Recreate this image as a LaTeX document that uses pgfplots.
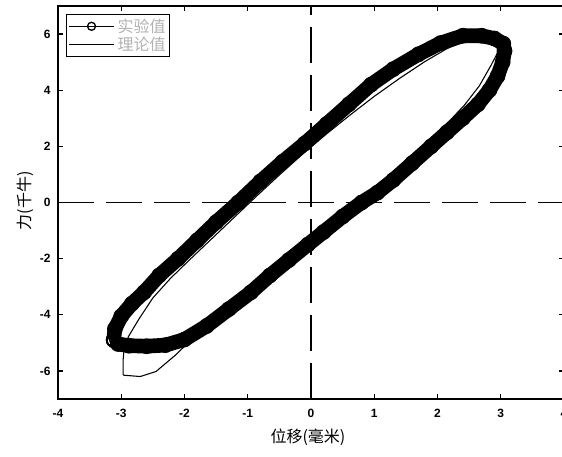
\documentclass[border=0pt]{standalone}
\usepackage{fontspec}
\usepackage{pgfplots}
\usepackage{pgfplotstable}
\pgfplotsset{compat=1.18}
\setmainfont{Liberation Sans}
\newfontfamily\cjk{Noto Sans CJK SC}

% measured hysteresis loop (displacement mm, force kN)
\pgfplotstableread{
x y
-3.12 -4.90
-3.10 -4.50
-3.00 -4.05
-2.83 -3.60
-2.64 -3.20
-2.40 -2.60
-2.10 -2.00
-1.80 -1.35
-1.50 -0.70
-1.15 0.00
-0.80 0.75
-0.45 1.45
-0.10 2.10
0.25 2.80
0.60 3.50
0.95 4.20
1.30 4.75
1.70 5.28
2.05 5.68
2.40 5.94
2.70 5.94
2.90 5.84
3.04 5.66
3.06 5.40
3.03 5.00
2.95 4.50
2.82 4.00
2.64 3.50
2.40 3.00
2.15 2.50
1.90 2.00
1.60 1.40
1.30 0.80
1.05 0.35
0.80 0.00
0.50 -0.50
0.20 -1.05
-0.05 -1.50
-0.35 -2.05
-0.65 -2.60
-0.95 -3.20
-1.30 -3.80
-1.65 -4.40
-2.00 -4.88
-2.30 -5.08
-2.60 -5.12
-2.88 -5.10
-3.05 -5.04
-3.12 -4.90
}\exptable

% model prediction
\pgfplotstableread{
x y
-2.97 -6.15
-2.97 -5.60
-2.95 -5.10
-2.88 -4.75
-2.72 -4.15
-2.50 -3.40
-2.22 -2.70
-1.90 -2.00
-1.55 -1.25
-1.20 -0.50
-0.85 0.25
-0.50 0.98
-0.12 1.75
0.25 2.45
0.62 3.12
1.00 3.78
1.40 4.42
1.80 5.02
2.15 5.48
2.45 5.78
2.75 5.72
3.00 5.55
2.85 4.90
2.66 4.15
2.43 3.48
2.18 2.88
1.87 2.22
1.52 1.52
1.17 0.82
0.82 0.17
0.47 -0.48
0.12 -1.12
-0.23 -1.77
-0.58 -2.42
-0.93 -3.07
-1.28 -3.72
-1.62 -4.38
-1.92 -4.95
-2.15 -5.45
-2.45 -6.02
-2.70 -6.20
-2.97 -6.15
}\theotable

\begin{document}
\begin{tikzpicture}
\begin{axis}[
  name=ax,
  scale only axis,
  width=379.5pt, height=294.75pt,
  xmin=-4, xmax=4, ymin=-7, ymax=7,
  xtick={-4,-3,...,4},
  ytick={-6,-4,...,6},
  tick align=inside,
  tick pos=both,
  major tick length=4pt,
  axis line style={line width=1pt},
  every tick/.style={line width=0.9pt, black},
  /pgf/number format/assume math mode=true,
  ticklabel style={font=\fontsize{9}{10}\selectfont\bfseries},
  xticklabel style={yshift=-4pt},
  yticklabel style={xshift=-2pt},
  xlabel={\cjk 位移(毫米)},
  ylabel={\cjk 力(千牛)},
  label style={font=\fontsize{12}{13}\selectfont},
  xlabel style={at={(axis description cs:0.494,-0.097)}, anchor=center},
  ylabel style={at={(axis description cs:-0.065,0.504)}, anchor=center},
  legend image code/.code={\draw[mark repeat=2,mark phase=2,#1] plot coordinates {(0cm,0cm) (0.6cm,0cm) (1.2cm,0cm)};},
  legend style={at={(axis description cs:0.016,0.98)}, anchor=north west,
    draw=black, line width=1pt, font=\fontsize{12}{13}\selectfont\cjk,
    text=gray!60, inner sep=1pt, row sep=-2pt, fill=white},
  legend cell align=left,
]
% reference lines through the origin
\addplot[forget plot, black, line width=1.2pt, dash pattern=on 27pt off 9pt] coordinates {(-4,0) (4,0)};
\addplot[forget plot, black, line width=1.2pt, dash pattern=on 27pt off 9pt] coordinates {(0,-7) (0,7)};
% thick band of the repeated measured cycles
\addplot[forget plot, black, line width=11pt, line join=round] table {\exptable};
\addplot[forget plot, black, only marks, mark=o, mark size=5.2pt, mark options={line width=1.4pt}] table {\exptable};
\addplot[black, line width=1pt, mark=o, mark size=3pt, mark options={line width=1pt}] table {\exptable};
\addlegendentry{实验值}
\addplot[black, line width=0.8pt] table {\theotable};
\addlegendentry{理论值}
\end{axis}
\pgfresetboundingbox
\path[use as bounding box] ([shift={(-43.5pt,-43.5pt)}]ax.south west) rectangle ([shift={(378pt,299.25pt)}]ax.south west);
\end{tikzpicture}
\end{document}
